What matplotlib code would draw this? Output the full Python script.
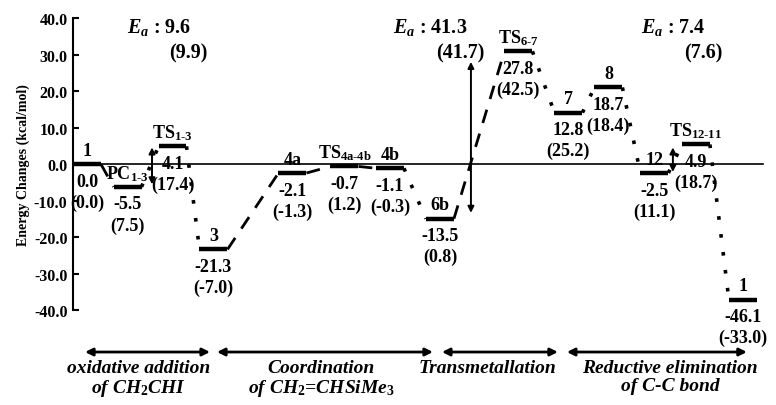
import numpy as np
import matplotlib
matplotlib.use("Agg")
import matplotlib.pyplot as plt

plt.rcParams['font.family'] = ['Liberation Serif', 'DejaVu Serif']
plt.rcParams['font.weight'] = 'bold'
plt.rcParams['axes.labelweight'] = 'bold'
plt.rcParams['mathtext.fontset'] = 'custom'
plt.rcParams['mathtext.rm'] = 'Liberation Serif:bold'
plt.rcParams['mathtext.it'] = 'Liberation Serif:bold:italic'
plt.rcParams['mathtext.bf'] = 'Liberation Serif:bold'

# species along the reaction coordinate
names = ['1', r'PC$_{\rm 1\text{-}3}$', r'TS$_{\rm 1\text{-}3}$', '3', '4a',
         r'TS$_{\rm 4a\text{-}4b}$', '4b', '6b', r'TS$_{\rm 6\text{-}7}$', '7', '8',
         '12', r'TS$_{\rm 12\text{-}11}$', '1']
rc_pos = [1.4, 5.45, 9.95, 14.05, 21.95, 27.15, 31.7, 36.7, 44.55, 49.55, 53.55,
          58.15, 62.3, 67.0]
# drawn height of each level (as on the picture)
level_y = [0.0, -6.2, 4.9, -23.3, -2.4, -0.6, -1.1, -14.9, 30.9, 14.1, 21.0,
           -2.4, 5.4, -37.0]
e_vals = ['0.0', '-5.5', '4.1', '-21.3', '-2.1', '-0.7', '-1.1', '-13.5', '27.8',
          '12.8', '18.7', '-2.5', '4.9', '-46.1']
e_paren = ['(0.0)', '(7.5)', '(17.4)', '(-7.0)', '(-1.3)', '(1.2)', '(-0.3)', '(0.8)',
           '(42.5)', '(25.2)', '(18.4)', '(11.1)', '(18.7)', '(-33.0)']
seg_style = ['dash', 'dot', 'dot', 'dash', 'dash', 'dash', 'dot', 'dash', 'dot',
             'dot', 'dot', 'dot', 'dot']

# activation energies
ea_text = [r'$E_a$ : 9.6', r'$E_a$ : 41.3', r'$E_a$ : 7.4']
ea_paren = ['(9.9)', '(41.7)', '(7.6)']
ea_x = [7.9, 39.8, 60.0]
ea_lo = [-5.5, -13.3, -2.1]
ea_hi = [4.6, 28.0, 4.6]

stages = [r'oxidative addition' + '\n' + r'of CH$_\mathit{2}$CHI',
          r'Coordination' + '\n' + r'of CH$_\mathit{2}$=CHSiMe$_\mathit{3}$',
          'Transmetallation', 'Reductive elimination\nof C-C bond']
stage_from = [1.2, 14.4, 36.9, 49.4]
stage_to = [13.7, 36.0, 48.5, 67.4]
stage_mid = [6.6, 24.8, 41.5, 59.7]

fig = plt.figure(figsize=(7.76, 4.06), dpi=100)
ax = fig.add_axes([0.0941, 0.2328, 0.898, 0.7204])
ax.set_xlim(0, 69.7)
ax.set_ylim(-40, 40)

half = 1.4
for i in range(len(names)):
    x, y = rc_pos[i], level_y[i]
    ax.plot([x - half, x + half], [y, y], color='black', lw=3.2, solid_capstyle='butt')
    ax.annotate(names[i], (x, y), xytext=(0, 14), textcoords='offset pixels',
                ha='center', va='center', fontsize=13)
    ax.annotate(e_vals[i], (x, y), xytext=(0, -17), textcoords='offset pixels',
                ha='center', va='center', fontsize=13)
    ax.annotate(e_paren[i], (x, y), xytext=(0, -38), textcoords='offset pixels',
                ha='center', va='center', fontsize=13)

for i in range(len(names) - 1):
    xs = [rc_pos[i] + half, rc_pos[i + 1] - half]
    ys = [level_y[i], level_y[i + 1]]
    if seg_style[i] == 'dash':
        ax.plot(xs, ys, color='black', lw=2, dashes=(5, 4))
    else:
        ax.plot(xs, ys, color='black', lw=2.6, dashes=(1, 4))

ax.axhline(0, xmin=0, xmax=0.99, color='black', lw=1.2)

for i in range(3):
    ax.annotate('', xy=(ea_x[i], ea_hi[i]), xytext=(ea_x[i], ea_lo[i]),
                arrowprops=dict(arrowstyle='<|-|>', color='black', lw=1.4,
                                mutation_scale=9, shrinkA=0, shrinkB=0))

ea_pos = [(8.6, 37.8), (35.7, 37.8), (60.0, 37.8)]
ea_ppos = [(11.5, 30.7), (38.7, 30.5), (63.0, 30.7)]
for i in range(3):
    ax.text(ea_pos[i][0], ea_pos[i][1], ea_text[i], ha='center', va='center', fontsize=14.5)
    ax.text(ea_ppos[i][0], ea_ppos[i][1], ea_paren[i], ha='center', va='center', fontsize=14.5)

for i in range(4):
    ax.annotate('', xy=(stage_to[i], 0.1305), xytext=(stage_from[i], 0.1305),
                xycoords=('data', 'figure fraction'),
                textcoords=('data', 'figure fraction'),
                arrowprops=dict(arrowstyle='<|-|>', color='black', lw=2,
                                mutation_scale=11, shrinkA=0, shrinkB=0),
                annotation_clip=False)
    ax.annotate(stages[i], (stage_mid[i], 0.113), xycoords=('data', 'figure fraction'),
                ha='center', va='top', fontsize=14, fontstyle='italic',
                linespacing=1.05, annotation_clip=False)

for s in ['top', 'right', 'bottom']:
    ax.spines[s].set_visible(False)
ax.spines['left'].set_linewidth(1.5)
ax.set_xticks([])
ax.set_yticks(np.arange(-40, 41, 10))
ax.set_yticklabels(['%.1f' % v for v in np.arange(-40, 41, 10)])
ax.tick_params(axis='y', direction='in', length=4, width=1.5, labelsize=11.5, pad=4)
ax.set_ylabel('Energy Changes (kcal/mol)', fontsize=10, labelpad=3)

fig.savefig('out.png', dpi=100)
